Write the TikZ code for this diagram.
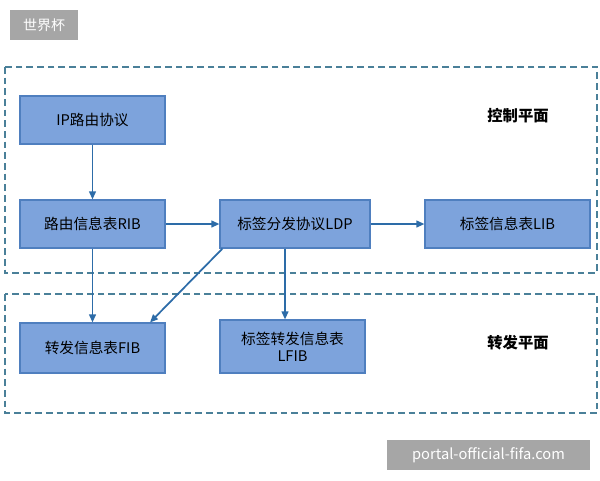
\documentclass[tikz,border=0pt]{standalone}
\usepackage{fontspec}
\setmainfont{Noto Sans CJK SC}
\usetikzlibrary{arrows.meta}
\definecolor{boxfill}{HTML}{7DA3DC}
\definecolor{boxline}{HTML}{4F7FBF}
\definecolor{arr}{HTML}{2D6CA8}
\definecolor{dash}{HTML}{4A8099}
\definecolor{tag}{HTML}{A6A6A6}
\tikzset{
  blk/.style={draw=boxline,fill=boxfill,line width=0.8pt,minimum width=108.75pt,minimum height=36pt,font=\fontsize{11}{13}\selectfont,align=center,inner sep=1pt},
  con/.style={draw=arr,line width=1.3pt,-{Triangle[length=6pt,width=5pt]}},
  zone/.style={draw=dash,line width=0.9pt,dash pattern=on 5pt off 3pt},
  tagbox/.style={fill=tag,text=white,font=\fontsize{10.5}{12}\selectfont,inner sep=0pt}
}
\begin{document}
\begin{tikzpicture}[x=0.75pt,y=-0.75pt]
\useasboundingbox (0,0) rectangle (600,480);
\fill[white] (0,0) rectangle (600,480);
\node[tagbox,minimum width=51pt,minimum height=22.5pt] (t1) at (44,25) {世界杯};
\draw[zone] (5,67) rectangle (597,273);
\draw[zone] (5,294) rectangle (597,413);
\node[font=\fontsize{11.5}{13}\selectfont\bfseries] (c1) at (518,116) {控制平面};
\node[font=\fontsize{11.5}{13}\selectfont\bfseries] (c2) at (518,343) {转发平面};
\node[blk] (ip) at (92.5,120) {IP路由协议};
\node[blk] (rib) at (92.5,224) {路由信息表RIB};
\node[blk,minimum width=112.5pt] (ldp) at (295,224) {标签分发协议LDP};
\node[blk,minimum width=123.75pt] (lib) at (507.5,224) {标签信息表LIB};
\node[blk,minimum height=37.5pt] (fib) at (92.5,348) {转发信息表FIB};
\node[blk,minimum height=39.75pt] (lfib) at (292.5,346.5) {标签转发信息表\\LFIB};
\draw[con] (ip) -- (rib);
\draw[con] (rib) -- (ldp);
\draw[con] (ldp) -- (lib);
\draw[con] (rib) -- (fib);
\draw[con] (ldp.south west) ++(3,0) coordinate (s) -- (fib.north east -| 150,0 |- fib.north);
\draw[con] (ldp.south -| 285,0) ++(0,0) -- (lfib.north -| 285,0);
\node[tagbox,minimum width=152pt,minimum height=22.5pt,font=\fontsize{11}{12}\selectfont] (t2) at (488.5,455) {portal-official-fifa.com};
\end{tikzpicture}
\end{document}
